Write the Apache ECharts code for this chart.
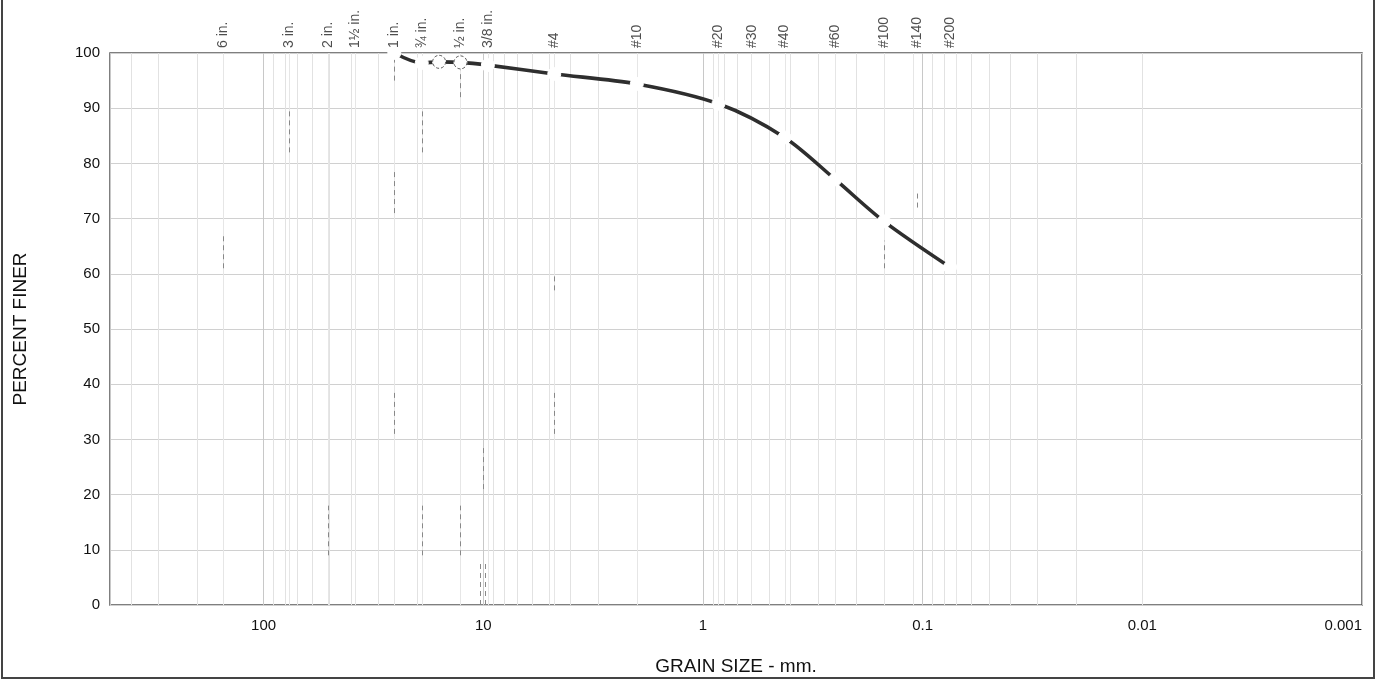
<!DOCTYPE html>
<html>
<head>
<meta charset="utf-8">
<script src="https://cdn.jsdelivr.net/npm/echarts@6/dist/echarts.min.js"></script>
<style>
  html, body { margin: 0; padding: 0; background: #fff; }
  #chart { width: 1376px; height: 681px; }
</style>
</head>
<body>
<div id="chart"></div>
<script>
// 筛分曲线数据 (粒径 mm / 通过百分比)
const grainSizes = [25.4, 19.05, 15.88, 12.7, 9.525, 4.75, 2.0, 0.85, 0.425, 0.25, 0.15, 0.075];
const percentFiner = [100, 98.2, 98.4, 98.3, 97.8, 96.2, 94.4, 90.8, 84.7, 77.1, 69.5, 61.2];
// 带黑边的空心点
const outlinedSizes = [15.88, 12.7];

// 顶部筛号
const sieveLabels = ['6 in.', '3 in.', '2 in.', '1½ in.', '1 in.', '¾ in.', '½ in.', '3/8 in.',
  '#4', '#10', '#20', '#30', '#40', '#60', '#100', '#140', '#200'];
const sieveSizes = [152.4, 76.2, 50.8, 38.1, 25.4, 19.05, 12.7, 9.525,
  4.75, 2.0, 0.85, 0.6, 0.425, 0.25, 0.15, 0.106, 0.075];

// 底部刻度
const xTickLabels = ['100', '10', '1', '0.1', '0.01', '0.001'];
const yTicks = [0, 10, 20, 30, 40, 50, 60, 70, 80, 90, 100];

// 扫描件上的虚线段 [粒径, 起, 止]
const dashSegments = [
  [152.4, 61, 67], [76.2, 82, 90], [50.8, 9, 18], [25.4, 95, 99], [25.4, 71, 79], [25.4, 31, 39],
  [19.05, 82, 90], [19.05, 9, 18], [12.7, 92, 97], [12.7, 9, 18], [10.0, 21, 29],
  [10.3, 0, 8], [9.8, 0, 8], [4.75, 57, 60], [4.75, 31, 39], [0.15, 61, 66], [0.106, 72, 75]
];

// 对数次刻度线
const minorLines = [];
for (let e = -3; e <= 2; e++) {
  for (let m = 2; m <= 9; m++) {
    const v = m * Math.pow(10, e);
    if (v < 500) minorLines.push({ xAxis: v });
  }
}

const font = 'Liberation Sans, Arial, sans-serif';
let chart = echarts.init(document.getElementById('chart'));
let option = {
  backgroundColor: '#fff',
  animation: false,
  textStyle: { fontFamily: font },
  grid: {
    left: 110,
    right: 14,
    top: 53,
    bottom: 74,
    show: true,
    borderColor: '#555',
    borderWidth: 1.5
  },
  graphic: [
    {
      type: 'rect',
      shape: { x: 2, y: -4, width: 1372, height: 682 },
      style: { fill: 'none', stroke: '#444', lineWidth: 2 },
      silent: true
    }
  ],
  xAxis: {
    type: 'log',
    logBase: 10,
    min: 0.001,
    max: 500,
    inverse: true,
    splitNumber: 6,
    name: 'GRAIN SIZE - mm.',
    nameLocation: 'middle',
    nameGap: 52,
    nameTextStyle: { fontSize: 19, color: '#111', fontFamily: font },
    axisLine: { show: false },
    axisTick: { show: false },
    axisLabel: {
      color: '#111',
      fontSize: 15,
      margin: 13,
      alignMinLabel: 'right',
      formatter: (v) => {
        const e = Math.log10(v);
        if (Math.abs(e - Math.round(e)) > 1e-6) return '';
        const idx = 2 - Math.round(e);
        return xTickLabels[idx] || '';
      }
    },
    splitLine: { show: true, lineStyle: { color: '#c8c8c8', width: 1 } }
  },
  yAxis: {
    type: 'value',
    min: 0,
    max: 100,
    interval: 10,
    name: 'PERCENT FINER',
    nameLocation: 'middle',
    nameGap: 80,
    nameTextStyle: { fontSize: 19, color: '#111', fontFamily: font },
    axisLine: { show: false },
    axisTick: { show: false },
    axisLabel: {
      color: '#111',
      fontSize: 15,
      margin: 10,
      formatter: (v) => (yTicks.indexOf(v) >= 0 ? String(v) : '')
    },
    splitLine: { show: true, lineStyle: { color: '#d0d0d0', width: 1 } }
  },
  series: [
    {
      // 次刻度线和虚线段
      name: 'grid',
      type: 'line',
      data: [],
      silent: true,
      markLine: {
        silent: true,
        symbol: 'none',
        label: { show: false },
        animation: false,
        data: [
          ...minorLines.map(d => ({ ...d, lineStyle: { color: '#e2e2e2', width: 1, type: 'solid' } })),
          ...sieveSizes.map(s => ({ xAxis: s, lineStyle: { color: '#e6e6e6', width: 1, type: 'solid' } })),
          ...dashSegments.map(([s, a, b]) => [
            { coord: [s, a], lineStyle: { color: '#888', width: 1, type: [5, 4] } },
            { coord: [s, b] }
          ])
        ]
      }
    },
    {
      name: '级配曲线',
      type: 'line',
      data: grainSizes.map((s, i) => [s, percentFiner[i]]),
      smooth: 0.3,
      symbol: 'circle',
      symbolSize: 13,
      showAllSymbol: true,
      lineStyle: { color: '#2e2e2e', width: 3.6 },
      itemStyle: { color: '#fff', borderColor: '#fff', borderWidth: 1 },
      z: 5
    },
    {
      name: '空心点',
      type: 'scatter',
      data: grainSizes
        .map((s, i) => [s, percentFiner[i]])
        .filter(p => outlinedSizes.indexOf(p[0]) >= 0),
      symbol: 'circle',
      symbolSize: 13,
      itemStyle: { color: '#fff', borderColor: '#333', borderWidth: 1, borderType: [3, 2] },
      z: 6
    },
    {
      name: '筛号',
      type: 'scatter',
      data: sieveSizes.map(s => [s, 100]),
      symbolSize: 0,
      silent: true,
      label: {
        show: true,
        position: 'top',
        distance: 5,
        rotate: 90,
        align: 'left',
        verticalAlign: 'middle',
        color: '#222',
        fontSize: 14,
        fontFamily: font,
        formatter: (p) => sieveLabels[p.dataIndex]
      },
      z: 4
    }
  ]
};
chart.setOption(option);
</script>
</body>
</html>
